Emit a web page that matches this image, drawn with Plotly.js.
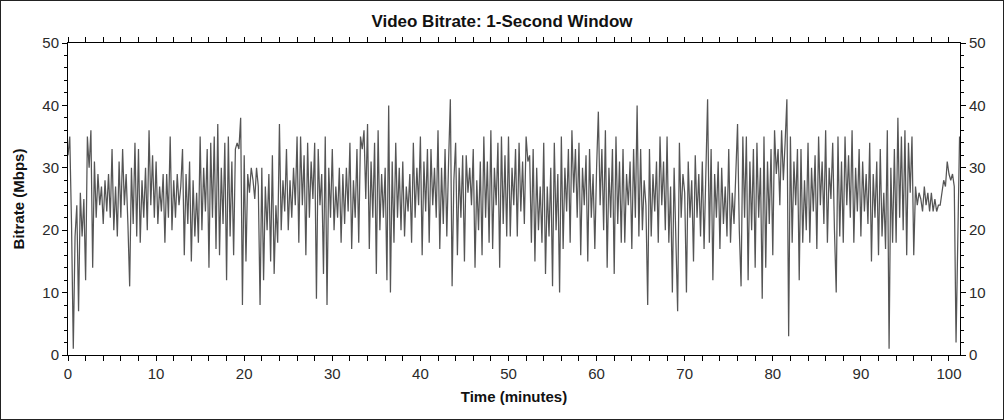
<!DOCTYPE html>
<html>
<head>
<meta charset="utf-8">
<script src="https://cdn.plot.ly/plotly-3.0.1.min.js"></script>
<style>
  html, body { margin: 0; padding: 0; background: #fff; }
  #wrap { position: relative; width: 1004px; height: 420px; }
  #chart { width: 1004px; height: 420px; }
  #frame { position: absolute; left: 0; top: 0; width: 1004px; height: 420px; box-sizing: border-box; border: 1px solid #222; pointer-events: none; }
</style>
</head>
<body>
<div id="wrap"><div id="chart"></div><div id="frame"></div></div>
<script>
// Sampling grid of the bitrate trace (minutes)
const sampleStartMin = 0;
const sampleStepMin = 0.2;

// Bitrate values (Mbps), 5 samples per minute
const bitrateMbps = [
  32, 35, 21, 1, 19,
  24, 7, 26, 19, 25,
  12, 35, 30, 36, 14,
  31, 22, 29, 24, 27,
  21, 28, 23, 29, 22,
  33, 20, 27, 19, 31,
  22, 33, 24, 29, 21,
  11, 30, 21, 34, 19,
  33, 18, 28, 22, 30,
  20, 36, 24, 32, 22,
  31, 21, 27, 23, 29,
  18, 29, 22, 35, 20,
  28, 22, 29, 24, 27,
  33, 16, 29, 21, 31,
  15, 28, 19, 26, 18,
  35, 20, 30, 23, 33,
  14, 34, 22, 35, 17,
  37, 16, 30, 21, 34,
  12, 35, 19, 31, 16,
  33, 34, 33, 38, 8,
  32, 15, 29, 26, 30,
  28, 25, 30, 27, 8,
  30, 12, 27, 20, 29,
  15, 32, 13, 24, 18,
  37, 20, 28, 23, 33,
  20, 28, 22, 30, 24,
  35, 18, 35, 24, 32,
  16, 34, 22, 31, 25,
  34, 9, 33, 24, 29,
  13, 35, 8, 30, 22,
  33, 20, 27, 22, 30,
  18, 29, 21, 30, 23,
  34, 17, 28, 22, 33,
  18, 35, 33, 36, 25,
  37, 17, 31, 22, 34,
  13, 36, 20, 29, 22,
  30, 12, 40, 10, 31,
  18, 34, 22, 30, 20,
  31, 19, 27, 23, 29,
  18, 34, 22, 30, 24,
  35, 16, 31, 23, 33,
  18, 33, 24, 30, 22,
  36, 17, 30, 21, 33,
  19, 31, 41, 11, 28,
  34, 16, 30, 22, 32,
  15, 32, 26, 30, 24,
  33, 14, 28, 20, 31,
  16, 35, 22, 31, 18,
  36, 17, 30, 24, 34,
  14, 35, 21, 32, 19,
  35, 19, 30, 24, 33,
  19, 34, 23, 31, 21,
  35, 31, 32, 18, 33,
  15, 30, 20, 27, 18,
  34, 13, 27, 19, 30,
  11, 34, 20, 29, 10,
  35, 17, 30, 23, 33,
  18, 36, 26, 33, 22,
  34, 16, 30, 24, 32,
  15, 33, 22, 29, 17,
  30, 39, 24, 33, 20,
  36, 14, 30, 22, 33,
  13, 35, 21, 31, 18,
  33, 18, 29, 24, 31,
  17, 33, 22, 40, 19,
  33, 20, 28, 24, 8,
  33, 19, 29, 23, 31,
  18, 35, 24, 31, 20,
  35, 18, 27, 10, 30,
  18, 7, 34, 22, 29,
  26, 10, 31, 22, 28,
  15, 32, 22, 29, 19,
  31, 17, 28, 41, 18,
  33, 12, 29, 22, 31,
  17, 30, 21, 27, 19,
  33, 18, 26, 21, 29,
  37, 20, 11, 35, 22,
  35, 12, 31, 20, 33,
  14, 34, 22, 30, 9,
  35, 14, 31, 21, 33,
  16, 36, 29, 33, 24,
  36, 28, 34, 41, 3,
  35, 18, 31, 24, 33,
  12, 33, 18, 28, 20,
  34, 18, 30, 23, 32,
  17, 35, 24, 31, 21,
  36, 18, 30, 25, 34,
  20, 10, 35, 19, 31,
  18, 35, 24, 32, 22,
  36, 18, 30, 23, 33,
  19, 31, 23, 29, 21,
  34, 15, 29, 22, 31,
  16, 33, 19, 26, 17,
  36, 1, 30, 18, 33,
  18, 38, 22, 35, 20,
  36, 16, 34, 26, 35,
  16, 27, 24, 26, 25,
  23, 27, 24, 26, 23,
  26, 23, 25, 23, 24,
  24, 26, 28, 27, 31,
  29, 28, 29, 27, 2,
  19, 35
];

const chartTitle = 'Video Bitrate: 1-Second Window';
const xTitle = 'Time (minutes)';
const yTitle = 'Bitrate (Mbps)';
const xTickVals = [0, 10, 20, 30, 40, 50, 60, 70, 80, 90, 100];
const yTickVals = [0, 10, 20, 30, 40, 50];

const timeMin = bitrateMbps.map((_, i) => +(sampleStartMin + i * sampleStepMin).toFixed(2));

const tickFont = { family: 'Liberation Sans, Arial, sans-serif', size: 15, color: '#2a2a2a' };
const boldFont = { family: 'Liberation Sans, Arial, sans-serif', size: 15, color: '#111', weight: 'bold' };

const traces = [
  {
    x: timeMin, y: bitrateMbps, type: 'scatter', mode: 'lines',
    line: { color: '#555555', width: 1.25 }, hoverinfo: 'x+y', showlegend: false
  },
  {
    x: [timeMin[0]], y: [bitrateMbps[0]], yaxis: 'y2', type: 'scatter', mode: 'lines',
    line: { color: 'rgba(0,0,0,0)', width: 0 }, hoverinfo: 'skip', showlegend: false
  }
];

const yCommon = {
  range: [0, 50], tickvals: yTickVals, ticks: 'outside', ticklen: 5, tickcolor: '#000',
  showgrid: false, zeroline: false, showline: true, linecolor: '#000', linewidth: 1,
  tickfont: tickFont,
  minor: { dtick: 2, ticks: 'outside', ticklen: 3, tickcolor: '#000', showgrid: false }
};

const layout = {
  width: 1004, height: 420,
  margin: { l: 68, r: 44, t: 43, b: 65 },
  paper_bgcolor: '#fff', plot_bgcolor: '#fff',
  title: { text: chartTitle, font: { family: 'Liberation Sans, Arial, sans-serif', size: 17, color: '#111', weight: 'bold' }, x: 0.5, xanchor: 'center', y: 0.95, yanchor: 'middle' },
  xaxis: {
    range: [0, 101.25], tickvals: xTickVals, ticks: 'outside', ticklen: 5, tickcolor: '#000',
    showgrid: false, zeroline: false, showline: true, linecolor: '#000', linewidth: 1,
    mirror: 'allticks', tickfont: tickFont,
    minor: { dtick: 2, ticks: 'outside', ticklen: 3, tickcolor: '#000', showgrid: false },
    title: { text: xTitle, font: boldFont, standoff: 10 }
  },
  yaxis: Object.assign({}, yCommon, {
    title: { text: yTitle, font: boldFont, standoff: 14 }
  }),
  yaxis2: Object.assign({}, yCommon, {
    overlaying: 'y', side: 'right'
  })
};

Plotly.newPlot('chart', traces, layout, { displayModeBar: false, staticPlot: true });
</script>
</body>
</html>
